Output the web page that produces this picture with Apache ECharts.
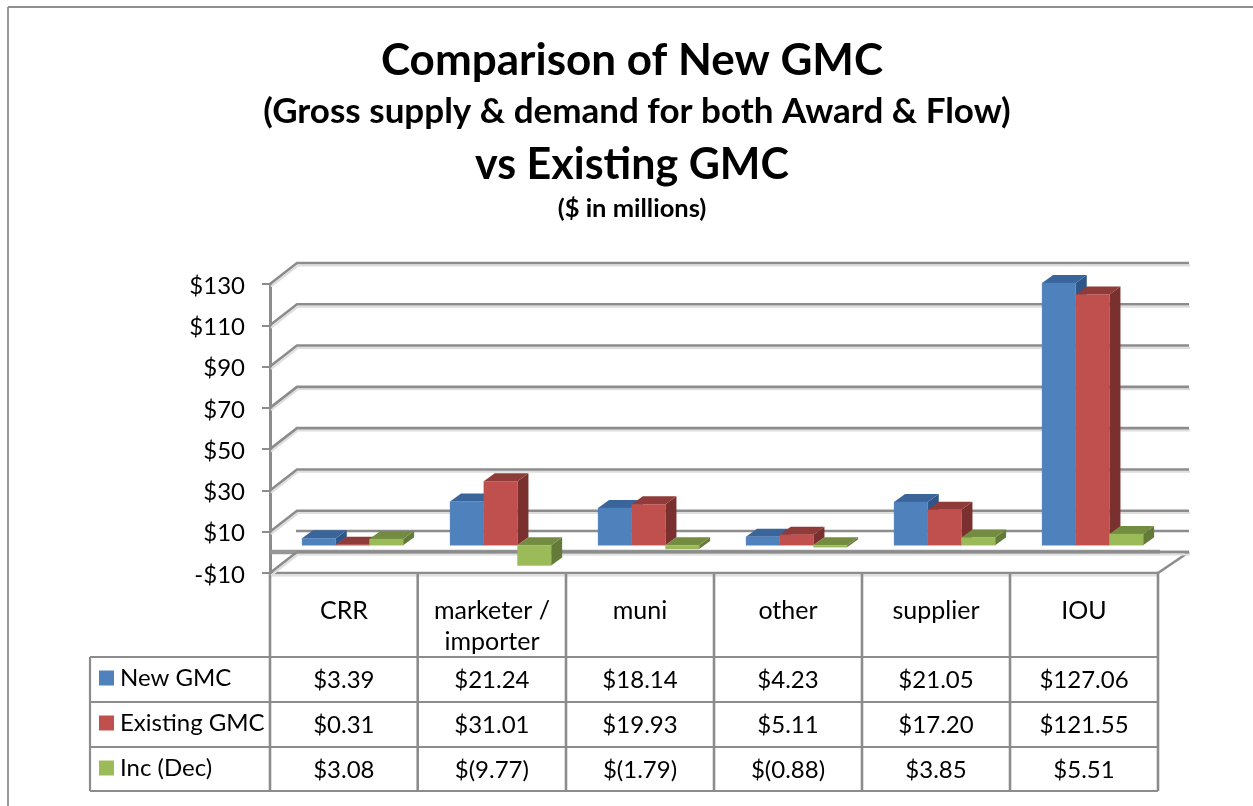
<!DOCTYPE html>
<html><head><meta charset="utf-8">
<style>html,body{margin:0;padding:0;background:#fff}#c{width:1253px;height:806px}</style>
<script src="https://cdn.jsdelivr.net/npm/echarts@6/dist/echarts.min.js"></script>
</head><body><div id="c"></div>
<script>
const categories = ['CRR', 'marketer /\nimporter', 'muni', 'other', 'supplier', 'IOU'];
const newGmc = [3.39, 21.24, 18.14, 4.23, 21.05, 127.06];
const existingGmc = [0.31, 31.01, 19.93, 5.11, 17.20, 121.55];
const incDec = [3.08, -9.77, -1.79, -0.88, 3.85, 5.51];
const seriesNames = ['New GMC', 'Existing GMC', 'Inc (Dec)'];
const yTicks = [-10, 10, 30, 50, 70, 90, 110, 130];
const titleLines = ['Comparison of New GMC', '(Gross supply & demand for both Award & Flow)', 'vs Existing GMC', '($ in millions)'];

const FONT = 'Lato';
const GRAY = '#8c8c8c';
const LIGHT = '#dedede';
const COLORS = [
  {front:'#4f81bd', top:'#39659a', side:'#2f5688', edge:'rgba(79,129,189,0.35)'},
  {front:'#c0504d', top:'#8f3b39', side:'#7a302e', edge:'rgba(192,80,77,0.3)'},
  {front:'#9bbb59', top:'#738c41', side:'#647a38', edge:'rgba(155,187,89,0.35)'}
];
const G = {l:270, r:1158, t:284, b:573};
const WALL_L = 27, WALL_R = 31, WALL_D = 21;
const COLS = [270, 417.7, 566, 714, 862, 1010, 1158];
const ROWS = [657, 702, 747, 791];

const fmt = v => v < 0 ? '$(' + Math.abs(v).toFixed(2) + ')' : '$' + v.toFixed(2);
const chart = echarts.init(document.getElementById('c'), null, {renderer:'canvas'});

function line(x1,y1,x2,y2,w,c,z){
  return {type:'line', z:z||1, silent:true, shape:{x1,y1,x2,y2}, style:{stroke:c||GRAY, lineWidth:w||2.6}};
}

function wallRender(params, api){
  const cs = params.coordSys;
  const v = api.value(0);
  const y = api.coord([0, v])[1];
  const by = y - WALL_D;
  const pts = [[cs.x, y],[cs.x + WALL_L, by],[cs.x + cs.width + WALL_R, by]];
  return {type:'group', children:[
    {type:'polyline', shape:{points:pts.map(p=>[p[0]+1,p[1]+2.4])}, style:{fill:null, stroke:LIGHT, lineWidth:2}},
    {type:'polyline', shape:{points:pts}, style:{fill:null, stroke:GRAY, lineWidth:2.6}}
  ]};
}
function barRender(si){
  return function(params, api){
    const c = COLORS[si];
    const catIdx = api.value(0);
    const v = api.value(1);
    const base = api.coord([catIdx, 0]);
    const tip = api.coord([catIdx, v]);
    const band = api.size([1, 0])[0];
    const w = band * 0.2277;
    const planeX = 8.6, planeY = 7;
    const dx = 11, dy = 8;
    const x0 = base[0] + planeX + (si - 1.5) * w;
    const x1 = x0 + w;
    const y0 = base[1] - planeY;
    const y1 = tip[1] - planeY;
    const top = Math.min(y0, y1), bot = Math.max(y0, y1);
    const st = {stroke:c.edge, lineWidth:1};
    return {type:'group', children:[
      {type:'polygon', shape:{points:[[x1,top],[x1+dx,top-dy],[x1+dx,bot-dy],[x1,bot]]}, style:{fill:c.side}},
      {type:'polygon', shape:{points:[[x0,top],[x0+dx,top-dy],[x1+dx,top-dy],[x1,top]]}, style:{fill:c.top}},
      {type:'rect', shape:{x:x0, y:top, width:w, height:bot-top}, style:Object.assign({fill:c.front}, st)}
    ]};
  };
}

const graphics = [];
// outer border
graphics.push(line(8,7,1253,7,1.8,'#8f8f8f'), line(8,7,8,806,1.8,'#8f8f8f'));
// floor lines
graphics.push(line(296,531,1189,531,2.6), line(1158,552,1189,552,2.6,'#a8a8a8'));
graphics.push(line(270,552,1160,552,4.4,'#969696'));
graphics.push(line(270,573,1158,573,2.6), line(270,575.4,1158,575.4,2,LIGHT));
graphics.push(line(1158,573,1189,552,2.6));
// table grid
COLS.forEach(x => graphics.push(line(x,573,x,ROWS[3],2.6)));
ROWS.forEach(y => graphics.push(line(90,y,1158,y,2.2)));
graphics.push(line(90,ROWS[0],90,ROWS[3],2.2));
// table values
[newGmc, existingGmc, incDec].forEach((arr,ri) => {
  arr.forEach((v,ci) => {
    graphics.push({type:'text', z:5, silent:true,
      x:(COLS[ci]+COLS[ci+1])/2, y:(ROWS[ri]+ROWS[ri+1])/2+1,
      style:{text:fmt(v), font:'24px '+FONT, fill:'#000', align:'center', verticalAlign:'middle'}});
  });
});

const tops = [56, 107, 160, 204];
const sizes = [44, 35, 43, 25.5];
const lefts = [627, 632, 627, 627];
const title = titleLines.map((t,i)=>({
  text:t, left:lefts[i], top:tops[i], textAlign:'center', textVerticalAlign:'middle',
  textStyle:{fontFamily:FONT, fontWeight:'bold', fontSize:sizes[i], color:'#000'}
}));

chart.setOption({
  animation:false,
  backgroundColor:'#fff',
  title,
  grid:{left:G.l, top:G.t, width:G.r-G.l, height:G.b-G.t, containLabel:false},
  xAxis:{type:'category', data:categories, boundaryGap:true,
    axisLine:{show:false, onZero:false}, axisTick:{show:false}, splitLine:{show:false},
    axisLabel:{interval:0, margin:22, fontFamily:FONT, fontSize:25, color:'#000', lineHeight:31, verticalAlign:'top'}},
  yAxis:{type:'value', min:-10, max:130, interval:20,
    axisLine:{show:true, lineStyle:{color:GRAY, width:3}},
    axisTick:{show:true, length:8, lineStyle:{color:GRAY, width:2}},
    splitLine:{show:false},
    axisLabel:{margin:25, fontFamily:FONT, fontSize:24, color:'#000', verticalAlign:'top', lineHeight:4,
      formatter:v => v < 0 ? '-$' + Math.abs(v) : '$' + v}},
  legend:{orient:'vertical', left:99, top:666, padding:0, itemWidth:15, itemHeight:15, itemGap:21,
    icon:'rect', selectedMode:false, data:seriesNames,
    textStyle:{fontFamily:FONT, fontSize:24, color:'#000', padding:[0,0,0,1]}},
  series:[
    {type:'custom', name:'wall', silent:true, z:1, renderItem:wallRender,
      data:yTicks.map(v=>[v]), encode:{y:0}, clip:false},
    ...[newGmc, existingGmc, incDec].map((arr,si)=>({
      type:'custom', name:seriesNames[si], z:3+si, clip:false,
      itemStyle:{color:COLORS[si].front},
      renderItem:barRender(si),
      encode:{x:0, y:1},
      data:arr.map((v,i)=>[i,v])
    }))
  ],
  graphic:{elements:graphics}
});
</script></body></html>
